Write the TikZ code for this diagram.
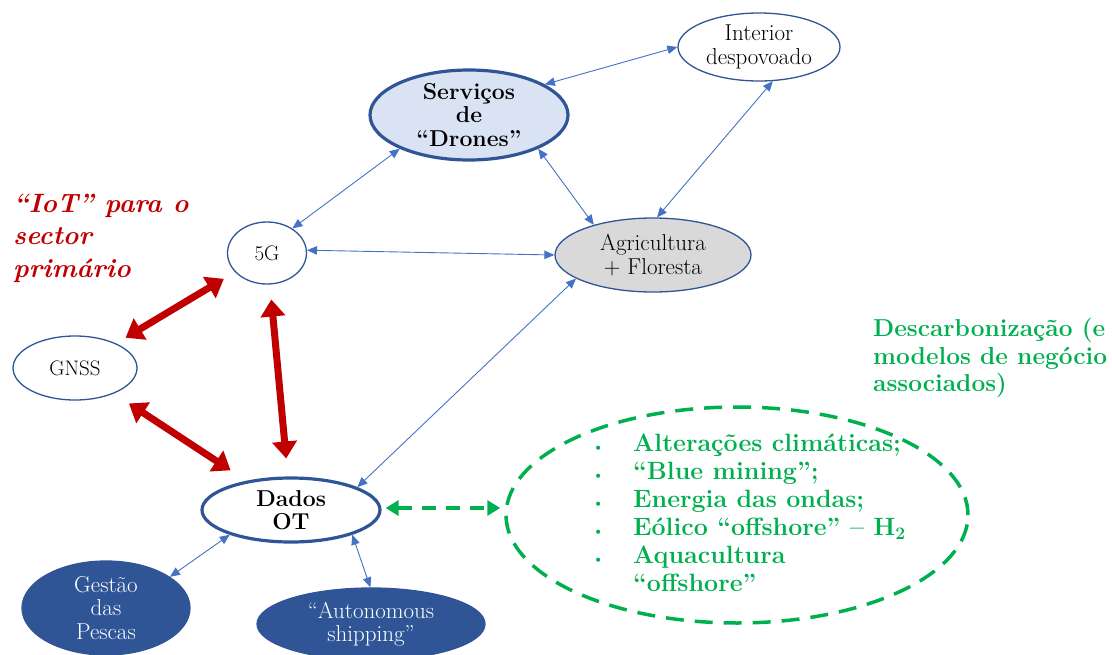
\documentclass[tikz,border=0pt]{standalone}
\usepackage{fontspec}
\usetikzlibrary{arrows.meta,shapes.geometric}
\definecolor{nodeblue}{HTML}{2F5597}
\definecolor{arrblue}{HTML}{4472C4}
\definecolor{lightblue}{HTML}{DAE3F3}
\definecolor{agrigray}{HTML}{D9D9D9}
\definecolor{iotred}{HTML}{C00000}
\definecolor{decgreen}{HTML}{00B050}
\begin{document}
\begin{tikzpicture}[x=1pt,y=-1pt,
  ell/.style={ellipse, draw=nodeblue, line width=1.3pt, inner xsep=0pt, inner ysep=-4pt, align=center,
    font=\fontsize{23}{23.5}\selectfont},
  smallell/.style={ell, font=\fontsize{21}{22.5}\selectfont},
  thickell/.style={ell, line width=3.2pt, font=\bfseries\fontsize{23}{23.5}\selectfont},
  darkell/.style={ell, fill=nodeblue, text=white},
  bluearrow/.style={arrblue, line width=0.9pt,
    {Triangle[length=10pt,width=8.5pt]}-{Triangle[length=10pt,width=8.5pt]}},
  redarrow/.style={iotred, line width=7pt,
    {Triangle[length=17pt,width=24pt]}-{Triangle[length=17pt,width=24pt]}},
  greenarrow/.style={decgreen, line width=3.5pt, dash pattern=on 14pt off 10pt,
    {Triangle[length=13pt,width=15pt]}-{Triangle[length=13pt,width=15pt]}},
]
\useasboundingbox (0,0) rectangle (1112,654);

% nodes
\node[ell, minimum width=162pt, minimum height=68pt] (int) at (759,47) {Interior\\despovoado};
\node[thickell, fill=lightblue, minimum width=198pt, minimum height=90pt] (dro) at (469,115) {Serviços\\de\\“Drones”};
\node[smallell, minimum width=79pt, minimum height=62pt] (fg) at (267,253) {5G};
\node[ell, fill=agrigray, minimum width=196pt, minimum height=74pt] (agr) at (653,255) {Agricultura\\+ Floresta};
\node[smallell, minimum width=124pt, minimum height=64pt] (gnss) at (75,368) {GNSS};
\node[thickell, minimum width=178pt, minimum height=64pt] (dad) at (291,510) {Dados\\OT};
\node[darkell, minimum width=168pt, minimum height=94pt] (ges) at (106,608) {Gestão\\das\\Pescas};
\node[darkell, minimum width=228pt, minimum height=72pt] (aut) at (371,624) {“Autonomous\\shipping”};
\node[ellipse, draw=decgreen, line width=3.5pt, dash pattern=on 18pt off 11pt,
      minimum width=462pt, minimum height=216pt, inner sep=0pt] (dec) at (737,515) {};

% texts
\node[anchor=west, align=left, text=iotred, inner sep=0pt,
      font=\bfseries\itshape\fontsize{26.5}{32.5}\selectfont] (iot) at (13,238)
  {“IoT” para o\\sector\\primário};
\node[anchor=west, align=left, text=decgreen, inner sep=0pt,
      font=\bfseries\fontsize{24.5}{27.5}\selectfont] (dech) at (873,358)
  {Descarbonização (e\\modelos de negócio\\associados)};
\node[anchor=west, align=left, text=decgreen, inner sep=0pt,
      font=\bfseries\fontsize{25}{28}\selectfont] (decl) at (592,513)
  {\makebox[41pt][l]{\fontsize{14}{14}\selectfont\textbullet}Alterações climáticas;\\
   \makebox[41pt][l]{\fontsize{14}{14}\selectfont\textbullet}“Blue mining”;\\
   \makebox[41pt][l]{\fontsize{14}{14}\selectfont\textbullet}Energia das ondas;\\
   \makebox[41pt][l]{\fontsize{14}{14}\selectfont\textbullet}Eólico “offshore” – H\textsubscript{2}\\
   \makebox[41pt][l]{\fontsize{14}{14}\selectfont\textbullet}Aquacultura\\
   \makebox[41pt][l]{}“offshore”};

% blue connectors
\draw[bluearrow] (dro.22) -- (int.180);
\draw[bluearrow] (dro.206) -- (fg.44);
\draw[bluearrow] (dro.-26) -- (agr.153);
\draw[bluearrow] (int.-68) -- (agr.84);
\draw[bluearrow] (fg.4) -- (agr.180);
\draw[bluearrow] (agr.197) -- (dad.19);
\draw[bluearrow] (dad.202) -- (ges.26);
\draw[bluearrow] (dad.-22) -- (aut.91);

% red connectors
\draw[redarrow, shorten <=13pt, shorten >=11pt] (fg) -- (gnss);
\draw[redarrow, shorten <=15pt, shorten >=18pt] (fg) -- (dad);
\draw[redarrow, shorten <=18pt, shorten >=19pt] (gnss) -- (dad);

% green connector
\draw[greenarrow, shorten <=4pt, shorten >=4pt] ([yshift=2pt]dad.east) -- ([yshift=2pt]dad.east -| dec.west);
\end{tikzpicture}
\end{document}
